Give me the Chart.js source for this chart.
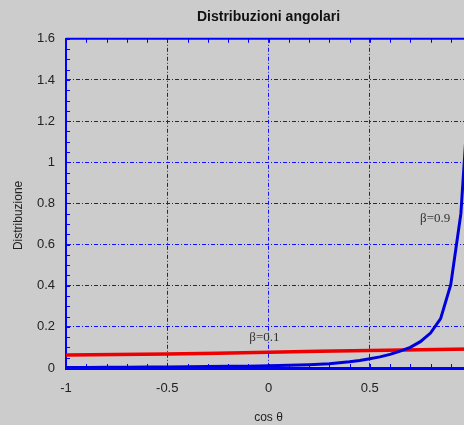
<!DOCTYPE html>
<html>
<head>
<meta charset="utf-8">
<script src="https://cdn.jsdelivr.net/npm/chart.js@4.4.1/dist/chart.umd.min.js"></script>
<style>
  html, body { margin: 0; padding: 0; background: #cccccc; overflow: hidden; }
  #wrap { width: 464px; height: 425px; overflow: hidden; }
  #myChart { display: block; width: 480px; height: 425px; }
</style>
</head>
<body>
<div id="wrap"><canvas id="myChart" width="480" height="425"></canvas></div>
<script>
// cos theta sample points and values
const cosBlue = [-1, -0.9, -0.8, -0.7, -0.6, -0.5, -0.4, -0.3, -0.2, -0.1, 0, 0.1, 0.2, 0.3, 0.4, 0.45, 0.5, 0.55, 0.6, 0.65, 0.7, 0.75, 0.8, 0.85, 0.9, 0.95, 1];
const beta09 = [0.003, 0.003, 0.004, 0.004, 0.005, 0.005, 0.006, 0.007, 0.008, 0.009, 0.011, 0.013, 0.016, 0.021, 0.030, 0.036, 0.045, 0.054, 0.066, 0.082, 0.100, 0.128, 0.170, 0.240, 0.405, 0.750, 1.5];
const cosRed = [-1, -0.75, -0.5, -0.25, 0, 0.25, 0.5, 0.75, 1];
const beta01 = [0.063, 0.066, 0.068, 0.072, 0.077, 0.081, 0.085, 0.089, 0.092];

const xTicks = [-1, -0.5, 0, 0.5, 1];
const yTicks = [0, 0.2, 0.4, 0.6, 0.8, 1, 1.2, 1.4, 1.6];

// curve labels (text, position in data units)
const curveLabels = [
  { text: 'β=0.9', x: 0.823, y: 0.725 },
  { text: 'β=0.1', x: -0.02, y: 0.146 },
];

const BLUE = '#0000ff';
const SANS = '"Liberation Sans", Arial, Helvetica, sans-serif';

// small inward ticks + top frame + curve labels
const decorations = {
  id: 'decorations',
  beforeDatasetsDraw(chart) {
    const { ctx, chartArea: a, scales: { x, y } } = chart;
    ctx.save();
    ctx.strokeStyle = BLUE;
    ctx.lineWidth = 1;
    ctx.beginPath();
    for (let i = -10; i <= 10; i++) {
      const px = Math.round(x.getPixelForValue(i / 10)) + 0.5;
      ctx.moveTo(px, a.bottom);
      ctx.lineTo(px, a.bottom - 4);
      ctx.moveTo(px, a.top);
      ctx.lineTo(px, a.top + 4);
    }
    for (let i = 0; i <= 32; i++) {
      const py = Math.round(y.getPixelForValue(i * 0.05)) + 0.5;
      ctx.moveTo(a.left, py);
      ctx.lineTo(a.left + 4, py);
    }
    ctx.stroke();
    ctx.lineWidth = 2;
    ctx.beginPath();
    ctx.moveTo(a.left, a.top);
    ctx.lineTo(a.right, a.top);
    ctx.stroke();
    ctx.restore();
  },
  afterDatasetsDraw(chart) {
    const { ctx, scales: { x, y } } = chart;
    ctx.save();
    ctx.font = '13px "Liberation Serif", "Times New Roman", serif';
    ctx.fillStyle = '#333333';
    ctx.textAlign = 'center';
    ctx.textBaseline = 'middle';
    curveLabels.forEach(l => {
      ctx.fillText(l.text, x.getPixelForValue(l.x), y.getPixelForValue(l.y));
    });
    ctx.restore();
  }
};

const ctx = document.getElementById('myChart');

const myChart = new Chart(ctx, {
  type: 'line',
  data: {
    datasets: [
      {
        label: 'β=0.9',
        data: cosBlue.map((c, i) => ({ x: c, y: beta09[i] })),
        borderColor: '#0000dd',
        borderWidth: 3,
        pointRadius: 0,
        tension: 0,
        fill: false,
      },
      {
        label: 'β=0.1',
        data: cosRed.map((c, i) => ({ x: c, y: beta01[i] })),
        borderColor: '#ee0000',
        borderWidth: 3.5,
        pointRadius: 0,
        tension: 0,
        fill: false,
      },
    ]
  },
  options: {
    responsive: false,
    devicePixelRatio: 1,
    animation: false,
    layout: { padding: { left: 0, right: 9, top: 0, bottom: 0 } },
    plugins: {
      legend: { display: false },
      tooltip: { enabled: false },
      title: {
        display: true,
        fullSize: false,
        text: 'Distribuzioni angolari',
        color: '#111111',
        font: { family: SANS, size: 14, weight: 'bold', lineHeight: 1.2 },
        padding: { top: 9, bottom: 13 },
      },
    },
    scales: {
      x: {
        type: 'linear',
        min: -1,
        max: 1,
        afterBuildTicks: s => { s.ticks = xTicks.map(v => ({ value: v })); },
        afterFit: s => { s.height = 57; s.paddingLeft = 0; s.paddingRight = 0; },
        ticks: {
          color: '#222222',
          font: { family: SANS, size: 13 },
          padding: 13,
          maxRotation: 0,
          callback: v => String(v),
        },
        grid: {
          color: ctx => (ctx.tick && (ctx.tick.value === -1 || ctx.tick.value === 1)) ? 'rgba(0,0,0,0)' : '#1010ff',
          lineWidth: 1,
          drawTicks: false,
        },
        border: { display: true, color: BLUE, width: 3, dash: [4, 2, 1, 2] },
        title: {
          display: true,
          text: 'cos θ',
          color: '#222222',
          font: { family: SANS, size: 12 },
          padding: { top: 0, bottom: 0 },
        },
      },
      y: {
        type: 'linear',
        min: 0,
        max: 1.6,
        afterBuildTicks: s => { s.ticks = yTicks.map(v => ({ value: v })); },
        afterFit: s => { s.width = 66; s.paddingTop = 0; s.paddingBottom = 0; },
        ticks: {
          color: '#222222',
          font: { family: SANS, size: 13 },
          padding: 11,
          callback: v => String(v),
        },
        grid: {
          color: ctx => (ctx.tick && (ctx.tick.value === 0 || ctx.tick.value === 1.6)) ? 'rgba(0,0,0,0)' : '#1010ff',
          lineWidth: 1,
          drawTicks: false,
        },
        border: { display: true, color: BLUE, width: 2, dash: [4, 2, 1, 2] },
        title: {
          display: true,
          text: 'Distribuzione\u2002\u2002\u2002\u2002',
          color: '#222222',
          font: { family: SANS, size: 12 },
          padding: { top: 11, bottom: 0 },
        },
      },
    },
  },
  plugins: [decorations],
});
</script>
</body>
</html>
